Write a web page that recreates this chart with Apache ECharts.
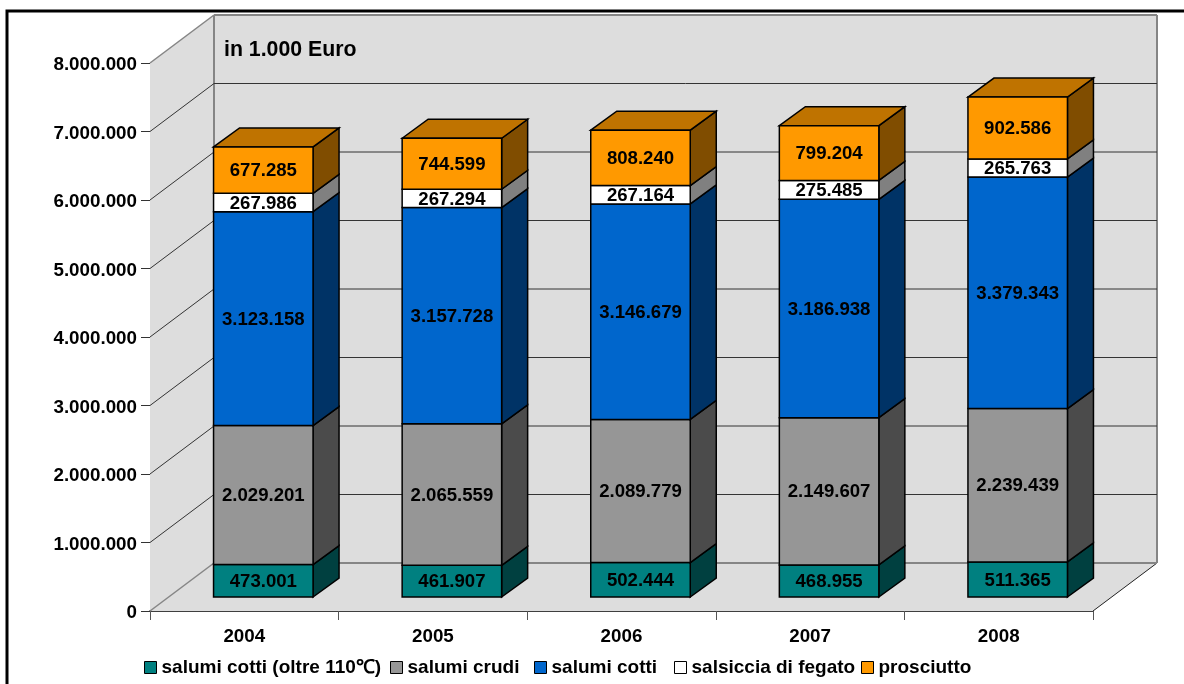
<!DOCTYPE html>
<html>
<head>
<meta charset="utf-8">
<style>html,body{margin:0;padding:0;background:#fff}#chart{width:1184px;height:684px}</style>
<script src="https://cdn.jsdelivr.net/npm/echarts@6/dist/echarts.min.js"></script>
</head>
<body>
<div id="chart"></div>
<script>
// Italian cured-meat production value, thousand euro
const years = ['2004', '2005', '2006', '2007', '2008'];
const cottiOltre = [473001, 461907, 502444, 468955, 511365];
const crudi = [2029201, 2065559, 2089779, 2149607, 2239439];
const cotti = [3123158, 3157728, 3146679, 3186938, 3379343];
const fegato = [267986, 267294, 267164, 275485, 265763];
const prosciutto = [677285, 744599, 808240, 799204, 902586];
const yTicks = [0, 1000000, 2000000, 3000000, 4000000, 5000000, 6000000, 7000000, 8000000];

const layers = [
  { name: 'salumi cotti (oltre 110℃)', values: cottiOltre, face: '#008080', side: '#004040', legendLeft: 144 },
  { name: 'salumi crudi', values: crudi, face: '#969696', side: '#4b4b4b', legendLeft: 390 },
  { name: 'salumi cotti', values: cotti, face: '#0066cc', side: '#003366', legendLeft: 534 },
  { name: 'salsiccia di fegato', values: fegato, face: '#ffffff', side: '#808080', legendLeft: 674 },
  { name: 'prosciutto', values: prosciutto, face: '#ff9900', side: '#804d00', top: '#bf7300', legendLeft: 861 }
];

// Oblique projection of the 3D box: depth of the room, offset of the bar front, bar depth
const ROOM = [64, -48];
const BAR_FRONT = [19, -14];
const BAR_DEPTH = [26, -19];
const BAR_WIDTH = 99.5;
const FONT = '"Liberation Sans", Arial, sans-serif';
const dotted = v => String(v).replace(/\B(?=(\d{3})+$)/g, '.');

const poly = (points, fill, stroke, lineWidth) => ({
  type: 'polygon',
  shape: { points },
  style: { fill, stroke: stroke || null, lineWidth: lineWidth || 0 }
});
const seg = (a, b, stroke, lineWidth) => ({
  type: 'line',
  shape: { x1: a[0], y1: a[1], x2: b[0], y2: b[1] },
  style: { stroke, lineWidth },
  silent: true
});
const shift = (p, d) => [p[0] + d[0], p[1] + d[1]];

// Walls and floor are sized from the grid; one data row per y tick gives the gridlines
function renderRoom(params, api) {
  const cs = params.coordSys;
  const v = api.value(0);
  const y = api.coord([0, v])[1];
  const left = cs.x, right = cs.x + cs.width;
  const children = [];
  const wallFill = '#dddddd', edge = '#858585';
  if (params.dataIndex === 0) {
    const top = cs.y, bottom = cs.y + cs.height;
    children.push(
      poly([[left, top], shift([left, top], ROOM), shift([left, bottom], ROOM), [left, bottom]], wallFill),
      poly([shift([left, top], ROOM), shift([right, top], ROOM), shift([right, bottom], ROOM), shift([left, bottom], ROOM)], wallFill),
      poly([[left, bottom], shift([left, bottom], ROOM), shift([right, bottom], ROOM), [right, bottom]], wallFill),
      seg(shift([left, top], ROOM), shift([left, bottom], ROOM), edge, 2),
      seg(shift([right, top], ROOM), shift([right, bottom], ROOM), edge, 2),
      seg([right, bottom], shift([right, bottom], ROOM), '#222', 1)
    );
  }
  const bounding = v === 0 || v === 8000000;
  const color = bounding ? edge : '#333';
  children.push(
    seg([left, y], shift([left, y], ROOM), color, bounding ? 1.5 : 1),
    seg(shift([left, y], ROOM), shift([right, y], ROOM), color, bounding ? 2 : 1)
  );
  return { type: 'group', children };
}

const bases = years.map((_, i) => {
  let sum = 0;
  return layers.map(l => { const b = sum; sum += l.values[i]; return b; });
});

// One stacked 3D segment: side, optional lid, front face and the value label
function renderLayer(layer, layerIndex) {
  return function (params, api) {
    const i = api.value(0), base = api.value(1), value = api.value(2);
    const low = api.coord([i, base]), high = api.coord([i, base + value]);
    const x = low[0] - BAR_WIDTH / 2 + BAR_FRONT[0];
    const x2 = x + BAR_WIDTH;
    const y1 = low[1] + BAR_FRONT[1], y2 = high[1] + BAR_FRONT[1];
    const ink = '#000';
    const children = [
      poly([[x2, y1], shift([x2, y1], BAR_DEPTH), shift([x2, y2], BAR_DEPTH), [x2, y2]], layer.side, ink, 1.5)
    ];
    if (layer.top) {
      children.push(poly([[x, y2], shift([x, y2], BAR_DEPTH), shift([x2, y2], BAR_DEPTH), [x2, y2]], layer.top, ink, 1.5));
    }
    children.push(poly([[x, y1], [x2, y1], [x2, y2], [x, y2]], layer.face, ink, 1.5));
    children.push({
      type: 'text',
      style: {
        x: (x + x2) / 2, y: (y1 + y2) / 2 + 1,
        text: dotted(value),
        fill: '#000',
        font: 'bold 18.6px ' + FONT,
        align: 'center', verticalAlign: 'middle'
      }
    });
    return { type: 'group', children };
  };
}

const option = {
  animation: false,
  backgroundColor: '#fff',
  title: {
    text: 'in 1.000 Euro',
    left: 224, top: 40, padding: 0,
    textStyle: { color: '#000', fontFamily: FONT, fontWeight: 'bold', fontSize: 21.3 }
  },
  legend: layers.map(l => ({
    data: [l.name],
    left: l.legendLeft, top: 658,
    icon: 'rect',
    itemWidth: 12, itemHeight: 12, itemGap: 0,
    padding: 0,
    selectedMode: false,
    itemStyle: { borderColor: '#000', borderWidth: 1 },
    textStyle: { color: '#000', fontFamily: FONT, fontWeight: 'bold', fontSize: 19, padding: 0 }
  })),
  grid: { left: 150, top: 63, width: 943, height: 548, containLabel: false },
  xAxis: {
    type: 'category',
    data: years,
    boundaryGap: true,
    axisLine: { lineStyle: { color: '#000', width: 1.5 } },
    axisTick: { show: true, length: 9, alignWithLabel: false, lineStyle: { color: '#555', width: 1 } },
    axisLabel: { color: '#000', fontFamily: FONT, fontWeight: 'bold', fontSize: 18.8, margin: 16 },
    splitLine: { show: false }
  },
  yAxis: {
    type: 'value',
    min: 0, max: 8000000, interval: 1000000,
    axisLine: { show: true, lineStyle: { color: '#333', width: 1 } },
    axisTick: { show: true, length: 9, lineStyle: { color: '#333', width: 1 } },
    axisLabel: {
      margin: 13,
      formatter: v => '{tick|' + dotted(v) + '}',
      rich: {
        tick: { color: '#000', fontFamily: FONT, fontWeight: 'bold', fontSize: 18.8, padding: [4, 0, 0, 0] }
      }
    },
    splitLine: { show: false }
  },
  series: [
    {
      type: 'custom',
      name: 'room',
      coordinateSystem: 'cartesian2d',
      renderItem: renderRoom,
      encode: { y: 0 },
      data: yTicks.map(v => [v]),
      z: 1,
      silent: true
    }
  ].concat(layers.map((l, li) => ({
    type: 'custom',
    name: l.name,
    coordinateSystem: 'cartesian2d',
    renderItem: renderLayer(l, li),
    encode: { x: 0, y: 2 },
    itemStyle: { color: l.face },
    data: years.map((_, i) => [i, bases[i][li], l.values[i]]),
    z: 3 + li,
    silent: true
  }))),
  // Frame round the plot, clipped by the page on the right and at the bottom
  graphic: [{
    type: 'polyline',
    shape: { points: [[7, 684], [7, 11], [1184, 11]] },
    style: { stroke: '#000', lineWidth: 3, fill: null },
    silent: true
  }]
};

echarts.init(document.getElementById('chart'), null, { renderer: 'canvas' }).setOption(option);
</script>
</body>
</html>
